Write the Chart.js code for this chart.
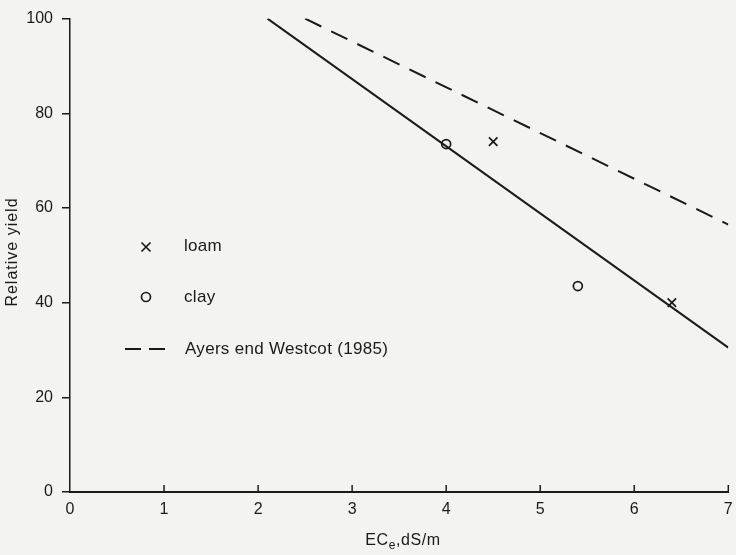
<!DOCTYPE html>
<html>
<head>
<meta charset="utf-8">
<script src="https://cdn.jsdelivr.net/npm/chart.js@4.4.1/dist/chart.umd.min.js"></script>
<style>
  html, body { margin: 0; padding: 0; background: #f3f3f1; }
  #wrap { width: 736px; height: 555px; }
</style>
</head>
<body>
<div id="wrap"><canvas id="c" width="736" height="555"></canvas></div>
<script>
// ---- data ----
const xTicks = [0, 1, 2, 3, 4, 5, 6, 7];
const yTicks = [0, 20, 40, 60, 80, 100];
const loamX = [4.5, 6.4];
const loamY = [74, 40];
const clayX = [4.0, 5.4];
const clayY = [73.5, 43.5];
const fitX = [2.1, 7.0];
const fitY = [100, 30.5];
const ayersX = [2.5, 7.0];
const ayersY = [100, 56.5];
const legendLabels = ['loam', 'clay', 'Ayers end Westcot (1985)'];

const pts = (xs, ys) => xs.map((x, i) => ({ x: x, y: ys[i] }));
const FONT = '"Liberation Sans", Arial, sans-serif';
const INK = '#1a1a1a';

const decor = {
  id: 'decor',
  afterDraw(chart) {
    const ctx = chart.ctx;
    const xs = chart.scales.x, ys = chart.scales.y;
    ctx.save();
    // inward x ticks
    ctx.strokeStyle = INK;
    ctx.lineWidth = 1.5;
    xTicks.forEach(v => {
      const px = xs.getPixelForValue(v);
      if (v === 0) return;
      ctx.beginPath();
      ctx.moveTo(px, ys.bottom);
      ctx.lineTo(px, ys.bottom - 7);
      ctx.stroke();
    });
    // x title with subscript
    ctx.fillStyle = INK;
    ctx.textBaseline = 'alphabetic';
    ctx.letterSpacing = '0.6px';
    const cx = 403, by = 545;
    const t1 = 'EC', t3 = ',dS/m';
    ctx.font = '16px ' + FONT;
    const w1 = ctx.measureText(t1).width;
    ctx.font = '12px ' + FONT;
    const w2 = ctx.measureText('e').width;
    ctx.font = '16px ' + FONT;
    const w3 = ctx.measureText(t3).width;
    let x0 = cx - (w1 + w2 + w3) / 2;
    ctx.textAlign = 'left';
    ctx.fillText(t1, x0, by);
    ctx.font = '12px ' + FONT;
    ctx.fillText('e', x0 + w1, by + 4);
    ctx.font = '16px ' + FONT;
    ctx.fillText(t3, x0 + w1 + w2, by);
    // y title
    ctx.save();
    ctx.translate(13, 252);
    ctx.rotate(-Math.PI / 2);
    ctx.textAlign = 'center';
    ctx.textBaseline = 'middle';
    ctx.letterSpacing = '1px';
    ctx.font = '16px ' + FONT;
    ctx.fillText('Relative yield', 0, 0);
    ctx.restore();
    // legend
    ctx.lineWidth = 1.7;
    ctx.strokeStyle = INK;
    let mx = 146, my = 247, r = 4.5;
    ctx.beginPath();
    ctx.moveTo(mx - r, my - r); ctx.lineTo(mx + r, my + r);
    ctx.moveTo(mx + r, my - r); ctx.lineTo(mx - r, my + r);
    ctx.stroke();
    ctx.beginPath();
    ctx.arc(146, 297, 4.5, 0, Math.PI * 2);
    ctx.stroke();
    ctx.lineWidth = 2;
    ctx.beginPath();
    ctx.moveTo(125, 349); ctx.lineTo(141, 349);
    ctx.moveTo(149, 349); ctx.lineTo(165, 349);
    ctx.stroke();
    ctx.font = '17px ' + FONT;
    ctx.letterSpacing = '0.3px';
    ctx.textAlign = 'left';
    ctx.textBaseline = 'middle';
    ctx.fillText(legendLabels[0], 184, 246);
    ctx.fillText(legendLabels[1], 184, 297);
    ctx.fillText(legendLabels[2], 185, 349);
    ctx.restore();
  }
};

new Chart(document.getElementById('c'), {
  type: 'scatter',
  data: {
    datasets: [
      { label: 'fit', data: pts(fitX, fitY), showLine: true, borderColor: INK, borderWidth: 2, pointRadius: 0 },
      { label: 'Ayers end Westcot (1985)', data: pts(ayersX, ayersY), showLine: true, borderColor: INK, borderWidth: 2, borderDash: [18, 11], pointRadius: 0 },
      { label: 'loam', data: pts(loamX, loamY), pointStyle: 'crossRot', pointRadius: 6, borderColor: INK, borderWidth: 1.7, backgroundColor: 'transparent' },
      { label: 'clay', data: pts(clayX, clayY), pointStyle: 'circle', pointRadius: 4.5, borderColor: INK, borderWidth: 1.7, backgroundColor: 'transparent' }
    ]
  },
  options: {
    responsive: false,
    animation: false,
    layout: { padding: { top: 9, right: 2, left: 0, bottom: 0 } },
    plugins: { legend: { display: false }, tooltip: { enabled: false } },
    elements: { line: { tension: 0 } },
    scales: {
      x: {
        type: 'linear', min: 0, max: 7,
        afterFit: s => { s.height = 63; },
        afterBuildTicks: s => { s.ticks = xTicks.map(v => ({ value: v })); },
        grid: { display: false },
        border: { display: true, color: INK, width: 2 },
        ticks: { color: INK, font: { family: FONT, size: 16 }, padding: 0, maxRotation: 0 }
      },
      y: {
        type: 'linear', min: 0, max: 100,
        afterFit: s => { s.width = 70; },
        afterBuildTicks: s => { s.ticks = yTicks.map(v => ({ value: v })); },
        grid: { display: true, drawOnChartArea: false, drawTicks: true, tickLength: 8, color: INK, lineWidth: 1.5 },
        border: { display: true, color: INK, width: 1.5 },
        ticks: { color: INK, font: { family: FONT, size: 16 }, padding: 9 }
      }
    }
  },
  plugins: [decor]
});
</script>
</body>
</html>
